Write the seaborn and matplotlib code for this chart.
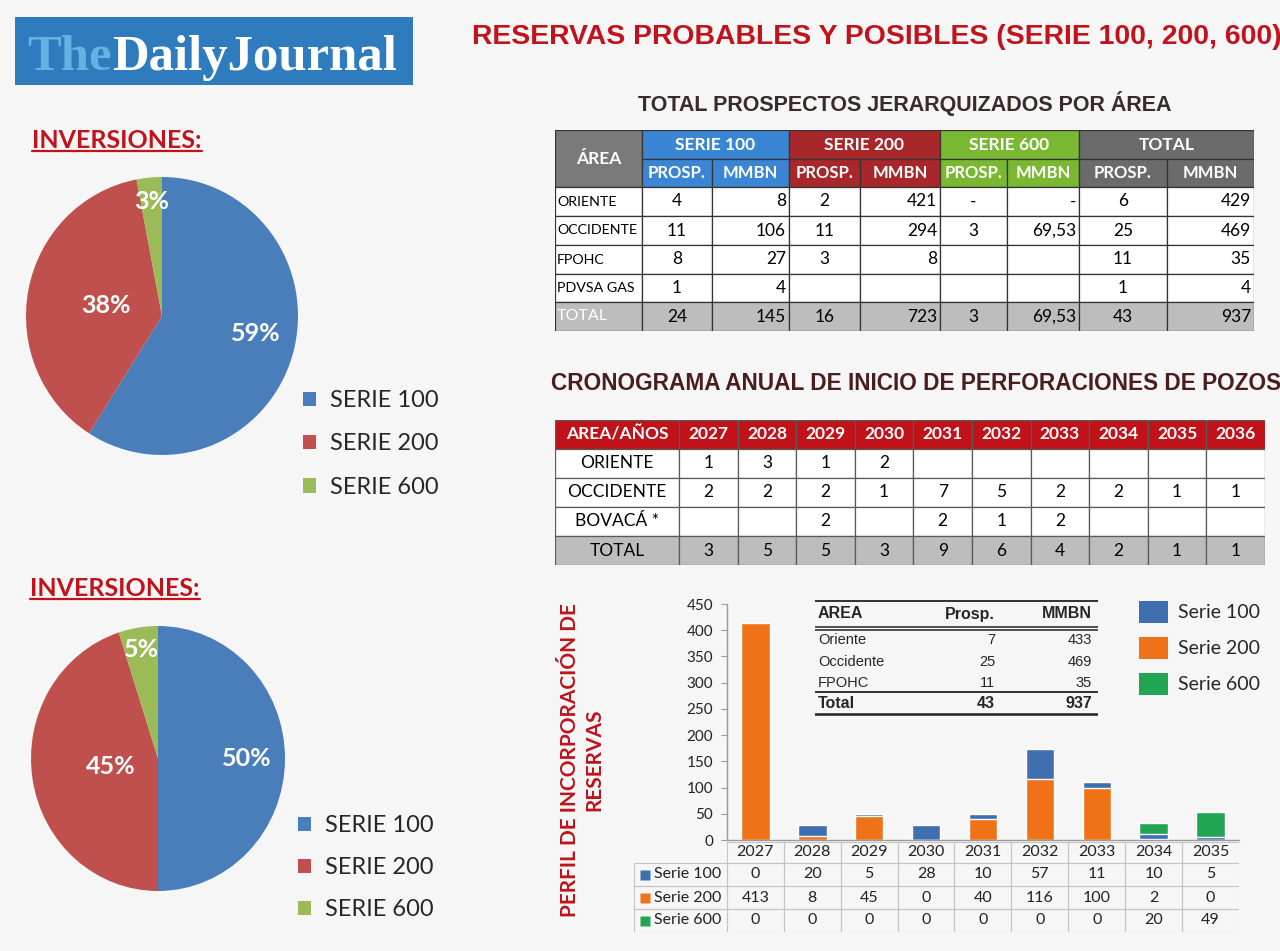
import matplotlib
matplotlib.use("Agg")
import matplotlib.pyplot as plt
from matplotlib import font_manager
from matplotlib.patches import Rectangle, Patch
from matplotlib.lines import Line2D
import numpy as np
import pandas as pd
import seaborn as sns

# ---- data ----
pie_labels = ["SERIE 100", "SERIE 200", "SERIE 600"]
pie_top = [59, 38, 3]
pie_bottom = [50, 45, 5]

areas = ["ORIENTE", "OCCIDENTE", "FPOHC", "PDVSA GAS"]
s100_prosp = ["4", "11", "8", "1"]
s100_mmbn = ["8", "106", "27", "4"]
s200_prosp = ["2", "11", "3", ""]
s200_mmbn = ["421", "294", "8", ""]
s600_prosp = ["-", "3", "", ""]
s600_mmbn = ["-", "69,53", "", ""]
tot_prosp = ["6", "25", "11", "1"]
tot_mmbn = ["429", "469", "35", "4"]
total_row = ["24", "145", "16", "723", "3", "69,53", "43", "937"]
groups = ["SERIE 100", "SERIE 200", "SERIE 600", "TOTAL"]
sub_headers = ["PROSP.", "MMBN"]

years = ["2027", "2028", "2029", "2030", "2031", "2032", "2033", "2034", "2035", "2036"]
sched_areas = ["ORIENTE", "OCCIDENTE", "BOVACÁ *"]
sched_oriente = [1, 3, 1, 2, None, None, None, None, None, None]
sched_occidente = [2, 2, 2, 1, 7, 5, 2, 2, 1, 1]
sched_bovaca = [None, None, 2, None, 2, 1, 2, None, None, None]
sched_total = [3, 5, 5, 3, 9, 6, 4, 2, 1, 1]

bar_years = ["2027", "2028", "2029", "2030", "2031", "2032", "2033", "2034", "2035"]
serie100 = [0, 20, 5, 28, 10, 57, 11, 10, 5]
serie200 = [413, 8, 45, 0, 40, 116, 100, 2, 0]
serie600 = [0, 0, 0, 0, 0, 0, 0, 20, 49]
bar_series = ["Serie 100", "Serie 200", "Serie 600"]

summary_areas = ["Oriente", "Occidente", "FPOHC"]
summary_prosp = [7, 25, 11]
summary_mmbn = [433, 469, 35]
summary_total = [43, 937]

# ---- style ----
sns.set_style("white")
installed = {f.name for f in font_manager.fontManager.ttflist}
BODY = "Lato" if "Lato" in installed else "DejaVu Sans"
NARROW = "Liberation Sans Narrow" if "Liberation Sans Narrow" in installed else "Liberation Sans"
plt.rcParams["font.family"] = [BODY, "DejaVu Sans"]

RED = "#c0131b"
PIE_COLORS = ["#4a7ebb", "#c0504d", "#9bbb59"]
GROUP_COLORS = ["#3a86d4", "#a8272b", "#7ab832", "#6b6b6b"]
BAR_BLUE, BAR_ORANGE, BAR_GREEN = "#3f6fae", "#ef7218", "#22a455"

W, H = 1280, 951
fig = plt.figure(figsize=(W / 100, H / 100), dpi=100, facecolor="#f6f6f6")


def px_axes(x0, y0, x1, y1):
    ax = fig.add_axes([x0 / W, 1 - y1 / H, (x1 - x0) / W, (y1 - y0) / H])
    ax.set_facecolor("none")
    return ax


def cell(ax, x0, x1, y0, y1, text="", face="white", color="black", ha="center",
         weight="normal", size=11.5, edge="#333333", lw=0.9, pad=3):
    ax.add_patch(Rectangle((x0, y0), x1 - x0, y1 - y0, facecolor=face,
                           edgecolor=edge, linewidth=lw))
    tx = {"center": (x0 + x1) / 2, "left": x0 + pad, "right": x1 - pad}[ha]
    ax.text(tx, (y0 + y1) / 2, text, ha=ha, va="center", color=color,
            fontsize=size, fontweight=weight)


# ---- logo and titles ----
logo = px_axes(15, 17, 413, 85)
logo.set_xlim(0, 1)
logo.set_ylim(0, 1)
logo.axis("off")
logo.add_patch(Rectangle((0, 0), 1, 1, facecolor="#2e7bbd", edgecolor="none"))
t_the = logo.text(0.032, 0.22, "The", color="#62b3e2", fontsize=36.5,
                  fontweight="bold", family="Liberation Serif", va="baseline")
logo.annotate("DailyJournal", xy=(1, 0), xycoords=t_the, va="bottom",
              color="white", fontsize=36.5, fontweight="bold",
              family="Liberation Serif")

fig.text(472 / W, 1 - 37 / H, "RESERVAS PROBABLES Y POSIBLES (SERIE 100, 200, 600)",
         color=RED, fontsize=20.4, fontweight="bold", family=NARROW, va="center")
fig.text(905 / W, 1 - 104 / H, "TOTAL PROSPECTOS JERARQUIZADOS POR ÁREA",
         color="#3a2b2b", fontsize=15.5, fontweight="bold", family=NARROW,
         ha="center", va="center")
fig.text(916 / W, 1 - 384 / H, "CRONOGRAMA ANUAL DE INICIO DE PERFORACIONES DE POZOS",
         color="#4a1e1e", fontsize=16.3, fontweight="bold", family=NARROW,
         ha="center", va="center")

inv_titles = [fig.text(32 / W, 1 - 141 / H, "INVERSIONES:", color=RED, fontsize=18,
                       fontweight="bold", va="center"),
              fig.text(30 / W, 1 - 589 / H, "INVERSIONES:", color=RED, fontsize=18,
                       fontweight="bold", va="center")]

# ---- pies ----
for box, values, dists, leg_xy, gap in [
        ((26, 177, 298, 455), pie_top, [0.70, 0.42, 0.83], (303, 390), 0.95),
        ((31, 626, 285, 891), pie_bottom, [0.70, 0.38, 0.83], (298, 815), 0.89)]:
    p = px_axes(*box)
    wedges, _ = p.pie(values, colors=PIE_COLORS, startangle=90, counterclock=False,
                      wedgeprops=dict(linewidth=0))
    p.set_xlim(-1, 1)
    p.set_ylim(-1, 1)
    p.set_aspect("auto")
    for w, v, d in zip(wedges, values, dists):
        ang = np.deg2rad((w.theta1 + w.theta2) / 2 + (6 if v > 55 else 0))
        p.text(d * np.cos(ang), d * np.sin(ang), f"{v}%", color="white",
               fontsize=18, fontweight="bold", ha="center", va="center")
    handles = [Patch(facecolor=c, edgecolor="none") for c in PIE_COLORS]
    fig.legend(handles, pie_labels, loc="upper left",
               bbox_to_anchor=(leg_xy[0] / W, 1 - leg_xy[1] / H), frameon=False,
               fontsize=17, handlelength=0.55, handleheight=0.55,
               handletextpad=0.6, labelspacing=gap, borderpad=0, borderaxespad=0)

# ---- prospects table ----
t1 = px_axes(555, 130, 1254, 331)
t1.set_xlim(0, 699)
t1.set_ylim(201, 0)
t1.axis("off")
col_edges = [0, 87, 157, 234, 305, 385, 452, 524, 612, 699]
row_edges = [0, 29, 57, 86, 115, 144, 172, 201]
cell(t1, 0, col_edges[1], 0, row_edges[2], "ÁREA", face="#7a7a7a", color="white",
     weight="bold", size=12.5)
for g, (name, col) in enumerate(zip(groups, GROUP_COLORS)):
    a, b, c = col_edges[1 + 2 * g], col_edges[2 + 2 * g], col_edges[3 + 2 * g]
    cell(t1, a, c, 0, row_edges[1], name, face=col, color="white", weight="bold", size=12.5)
    cell(t1, a, b, row_edges[1], row_edges[2], sub_headers[0], face=col,
         color="white", weight="bold", size=12)
    cell(t1, b, c, row_edges[1], row_edges[2], sub_headers[1], face=col,
         color="white", weight="bold", size=12)
columns = [s100_prosp, s100_mmbn, s200_prosp, s200_mmbn,
           s600_prosp, s600_mmbn, tot_prosp, tot_mmbn]
for r, area in enumerate(areas):
    y0, y1 = row_edges[2 + r], row_edges[3 + r]
    cell(t1, 0, col_edges[1], y0, y1, area, ha="left", size=10.3, pad=2)
    for c, vals in enumerate(columns):
        ha = "center" if c % 2 == 0 else "right"
        cell(t1, col_edges[1 + c], col_edges[2 + c], y0, y1, vals[r], ha=ha, size=12.5)
y0, y1 = row_edges[6], row_edges[7]
cell(t1, 0, col_edges[1], y0, y1, "TOTAL", face="#bdbdbd", color="white", ha="left",
     size=11.5, pad=2)
for c, v in enumerate(total_row):
    ha = "center" if c % 2 == 0 else "right"
    cell(t1, col_edges[1 + c], col_edges[2 + c], y0, y1, v, face="#bdbdbd", ha=ha, size=12.5)

# ---- schedule table ----
t2 = px_axes(555, 420, 1265, 565)
t2.set_xlim(0, 710)
t2.set_ylim(145, 0)
t2.axis("off")
first_w = 124
year_w = (710 - first_w) / len(years)
rh = 29
cell(t2, 0, first_w, 0, rh, "AREA/AÑOS", face="#c1121a", color="white",
     weight="bold", size=12.5, edge="#5a5a5a")
for i, y in enumerate(years):
    cell(t2, first_w + i * year_w, first_w + (i + 1) * year_w, 0, rh, y,
         face="#c1121a", color="white", weight="bold", size=12.5, edge="#5a5a5a")
sched_rows = [sched_oriente, sched_occidente, sched_bovaca, sched_total]
for r, (label, vals) in enumerate(zip(sched_areas + ["TOTAL"], sched_rows)):
    face = "#bdbdbd" if label == "TOTAL" else "white"
    ya, yb = rh * (r + 1), rh * (r + 2)
    cell(t2, 0, first_w, ya, yb, label, face=face, size=12.5, edge="#5a5a5a")
    for i, v in enumerate(vals):
        cell(t2, first_w + i * year_w, first_w + (i + 1) * year_w, ya, yb,
             "" if v is None else str(v), face=face, size=12.5, edge="#5a5a5a")

# ---- stacked bars ----
df = pd.DataFrame({"year": bar_years, "s100": serie100, "s200": serie200, "s600": serie600})
df["top100"] = df["s200"] + df["s100"]
df["top600"] = df["top100"] + df["s600"]
bx = px_axes(727, 604, 1239, 840)
for col, color in [("top600", BAR_GREEN), ("top100", BAR_BLUE), ("s200", BAR_ORANGE)]:
    sns.barplot(data=df, x="year", y=col, color=color, width=0.5, saturation=1,
                errorbar=None, ax=bx)
bx.set_ylim(0, 450)
bx.set_xlim(-0.5, len(bar_years) - 0.5)
bx.set_yticks(range(0, 451, 50))
bx.set_xlabel("")
bx.set_ylabel("")
bx.tick_params(axis="x", bottom=False, labelbottom=False)
bx.tick_params(axis="y", left=True, length=4, color="#9a9a9a", labelsize=11,
               labelcolor="#222222", pad=6)
for side in ["top", "right"]:
    bx.spines[side].set_visible(False)
for side in ["left", "bottom"]:
    bx.spines[side].set_color("#9a9a9a")
    bx.spines[side].set_linewidth(1)

fig.legend([Patch(facecolor=c, edgecolor="none") for c in [BAR_BLUE, BAR_ORANGE, BAR_GREEN]],
           bar_series, loc="upper left", bbox_to_anchor=(1139 / W, 1 - 601 / H),
           frameon=False, fontsize=14, handlelength=1.5, handleheight=1.35,
           handletextpad=0.5, labelspacing=0.73, borderpad=0, borderaxespad=0)

fig.text(582 / W, 1 - 760 / H, "PERFIL DE INCORPORACIÓN DE\nRESERVAS", rotation=90,
         color=RED, fontsize=15, fontweight="bold", ha="center", va="center",
         multialignment="center", linespacing=1.3)

# ---- summary table inside bar chart ----
sx = px_axes(815, 600, 1098, 716)
sx.set_xlim(0, 283)
sx.set_ylim(116, 0)
sx.axis("off")
for yy, lw in [(1, 1.3), (27, 1.1), (30, 1.1), (92, 1.3), (114, 1.8)]:
    sx.plot([0, 283], [yy, yy], color="#222222", lw=lw)
hdr = dict(family="Liberation Sans", fontsize=11.5, fontweight="bold", va="center")
sx.text(3, 14, "AREA", ha="left", **hdr)
sx.text(180, 14, "Prosp.", ha="right", **hdr)
sx.text(277, 14, "MMBN", ha="right", **hdr)
for i, (a, pr, mm) in enumerate(zip(summary_areas, summary_prosp, summary_mmbn)):
    yy = 40 + 21.5 * i
    body = dict(family="Liberation Sans", fontsize=10.5, va="center")
    sx.text(3, yy, a, ha="left", **body)
    sx.text(180, yy, str(pr), ha="right", **body)
    sx.text(277, yy, str(mm), ha="right", **body)
sx.text(3, 104, "Total", ha="left", **hdr)
sx.text(180, 104, str(summary_total[0]), ha="right", **hdr)
sx.text(277, 104, str(summary_total[1]), ha="right", **hdr)

# ---- data table below the bars ----
dx = px_axes(634, 842, 1239, 932)
label_w = 93 / 57
dx.set_xlim(-0.5 - label_w, len(bar_years) - 0.5)
dx.set_ylim(90, 0)
dx.axis("off")
trow = [0, 21, 44, 67, 90]
grid = dict(edge="#c4c4c4", lw=0.8, size=11.5, color="#222222", face="none")
for i, y in enumerate(bar_years):
    cell(dx, i - 0.5, i + 0.5, trow[0], trow[1], y, **grid)
for r, (name, vals, color) in enumerate(zip(bar_series, [serie100, serie200, serie600],
                                            [BAR_BLUE, BAR_ORANGE, BAR_GREEN])):
    ya, yb = trow[r + 1], trow[r + 2]
    cell(dx, -0.5 - label_w, -0.5, ya, yb, "", **grid)
    dx.plot(-0.5 - label_w + 0.2, (ya + yb) / 2, marker="s", ms=7, color=color, mec="none")
    dx.text(-0.5 - label_w + 0.36, (ya + yb) / 2, name, ha="left", va="center",
            fontsize=11.5, color="#222222")
    for i, v in enumerate(vals):
        cell(dx, i - 0.5, i + 0.5, ya, yb, str(v), **grid)

# underline the pie titles
fig.canvas.draw()
for t in inv_titles:
    bb = t.get_window_extent().transformed(fig.transFigure.inverted())
    yline = bb.y0 + 1.5 / H
    fig.add_artist(Line2D([bb.x0, bb.x1], [yline, yline], transform=fig.transFigure,
                          color=RED, lw=1.6))

fig.savefig("out.png", dpi=100, facecolor=fig.get_facecolor())
